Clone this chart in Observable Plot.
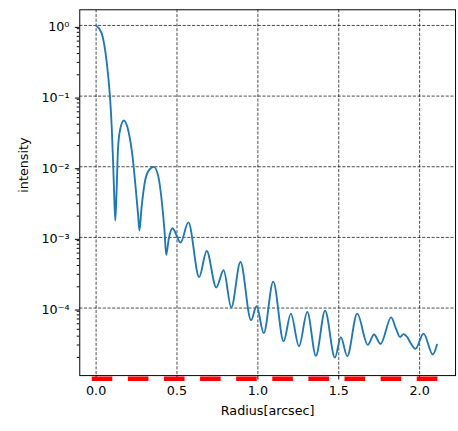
<!DOCTYPE html>
<html>
<head>
<meta charset="utf-8">
<script src="https://cdn.jsdelivr.net/npm/d3@7"></script>
<script src="https://cdn.jsdelivr.net/npm/@observablehq/plot@0.6"></script>
<style>
  html, body { margin: 0; padding: 0; background: #fff; overflow: hidden; }
  #chart { width: 458px; height: 431px; overflow: hidden; }
</style>
</head>
<body>
<div id="chart"></div>
<script>
// Radial intensity profile
const radius = [
  0, 0.0339, 0.0581, 0.0744, 0.0865, 0.0968, 0.1047, 0.1107, 0.1186,
  0.127, 0.1349, 0.147, 0.1712, 0.1996, 0.2257, 0.2456, 0.2601, 0.268,
  0.2801, 0.3001, 0.3267, 0.3569, 0.3848, 0.4071, 0.4235, 0.4332, 0.4495,
  0.4719, 0.5221, 0.5705, 0.637, 0.6836, 0.7429, 0.7883, 0.8355, 0.8923,
  0.9577, 0.9921, 1.0363, 1.095, 1.1591, 1.2039, 1.2541, 1.3055, 1.3587,
  1.4156, 1.4761, 1.513, 1.5523, 1.614, 1.6794, 1.7181, 1.758, 1.824,
  1.853, 1.879, 1.900, 1.923, 1.944, 1.974, 2.0242, 2.0811, 2.107
];
const intensity = [
  1, 0.780, 0.412, 0.195, 0.0929, 0.0357, 0.01233, 0.00474, 0.001726,
  0.00474, 0.0170, 0.0321, 0.0451, 0.0321, 0.01371, 0.00474, 0.00202, 0.001253,
  0.00251, 0.00585, 0.00897, 0.00998, 0.00724, 0.00309, 0.001189, 0.000565, 0.000962,
  0.001349, 0.000847, 0.001633, 0.000274, 0.000643, 0.0001954, 0.000343, 0.0001019, 0.000448,
  6.73e-5, 1.059e-4, 4.41e-5, 2.366e-4, 3.38e-5, 8.34e-5, 2.88e-5, 8.81e-5, 2.11e-5,
  9.18e-5, 1.986e-5, 3.88e-5, 2.09e-5, 8.34e-5, 3.01e-5, 4.23e-5, 3.10e-5, 7.38e-5,
  5.16e-5, 3.89e-5, 4.27e-5, 3.89e-5, 3.21e-5, 2.64e-5, 4.34e-5, 2.20e-5, 3.03e-5
];

// Red dashed marker line (drawn at intensity 1e-5, just under the axes)
const markerRadius = [-0.027, 2.12];
const markerIntensity = [1e-5, 1e-5];

// Axes
const xTicks = [0, 0.5, 1.0, 1.5, 2.0];
const xTickLabels = ["0.0", "0.5", "1.0", "1.5", "2.0"];
const yTicks = [1, 0.1, 0.01, 0.001, 0.0001];
const yTickLabels = ["10\u2070", "10\u207B\u00B9", "10\u207B\u00B2", "10\u207B\u00B3", "10\u207B\u2074"];
const xLabel = "Radius[arcsec]";
const yLabel = "intensity";

const xDomain = [-0.101, 2.222];
const yDomain = [Math.pow(10, -4.956), Math.pow(10, 0.2216)];

const profile = radius.map((r, i) => ({r, v: intensity[i]}));
const marker = markerRadius.map((r, i) => ({r, v: markerIntensity[i]}));
const xLabelMap = new Map(xTicks.map((t, i) => [t, xTickLabels[i]]));
const yLabelMap = new Map(yTicks.map((t, i) => [t, yTickLabels[i]]));
const minorTicks = d3.range(-5, 1)
  .flatMap(e => d3.range(2, 10).map(m => m * Math.pow(10, e)))
  .filter(v => v >= yDomain[0] && v <= yDomain[1]);

const gridStyle = {stroke: "#000", strokeOpacity: 0.8, strokeWidth: 0.9, strokeDasharray: "3.2,1.6"};

const chart = Plot.plot({
  width: 468,
  height: 431,
  marginLeft: 81,
  marginTop: 9.5,
  marginBottom: 47.7,
  marginRight: 3,
  style: {fontFamily: "DejaVu Sans", fontSize: "13px", background: "#fff", color: "#000"},
  x: {domain: xDomain, axis: null},
  y: {type: "log", domain: yDomain, axis: null},
  marks: [
    Plot.gridX(xTicks, gridStyle),
    Plot.gridY(yTicks, gridStyle),
    Plot.line(profile, {x: "r", y: "v", stroke: "#1f77b4", strokeWidth: 1.9, curve: "monotone-x"}),
    Plot.frame({stroke: "#000", strokeWidth: 1}),
    Plot.axisX(xTicks, {tickSize: 4.5, tickPadding: 6.5, tickFormat: d => xLabelMap.get(d), label: null}),
    Plot.axisY(yTicks, {tickSize: 4.5, tickPadding: 6, tickFormat: d => yLabelMap.get(d), label: null, dy: 2}),
    Plot.axisY(minorTicks, {tickSize: 2.6, tickFormat: () => "", label: null}),
    Plot.line(marker, {x: "r", y: "v", stroke: "#ff0000", strokeWidth: 4.6, strokeDasharray: "21,15.9", strokeLinecap: "butt"}),
    Plot.text([xLabel], {frameAnchor: "bottom", dy: 36, lineAnchor: "middle", fontSize: 13}),
    Plot.text([yLabel], {frameAnchor: "left", dx: -57, rotate: -90, lineAnchor: "middle", fontSize: 13})
  ]
});
document.getElementById("chart").appendChild(chart);
</script>
</body>
</html>
